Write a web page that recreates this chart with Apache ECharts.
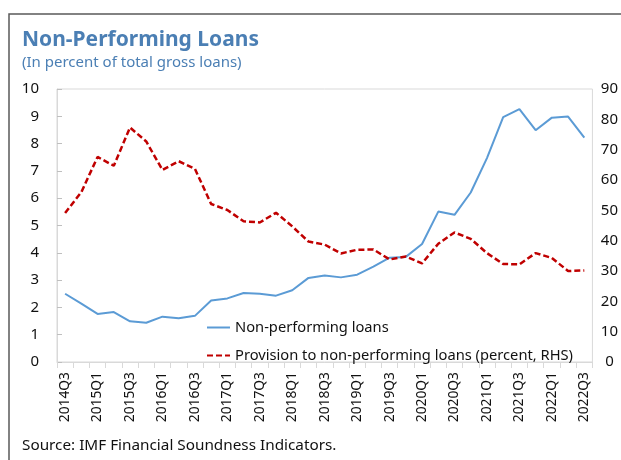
<!DOCTYPE html>
<html><head><meta charset="utf-8">
<script src="https://cdn.jsdelivr.net/npm/echarts@6/dist/echarts.min.js"></script>
<style>html,body{margin:0;padding:0;background:#fff}#c{width:621px;height:460px}</style>
</head><body><div id="c"></div>
<script>
const categories = ['2014Q3','2014Q4',
  '2015Q1','2015Q2','2015Q3','2015Q4',
  '2016Q1','2016Q2','2016Q3','2016Q4',
  '2017Q1','2017Q2','2017Q3','2017Q4',
  '2018Q1','2018Q2','2018Q3','2018Q4',
  '2019Q1','2019Q2','2019Q3','2019Q4',
  '2020Q1','2020Q2','2020Q3','2020Q4',
  '2021Q1','2021Q2','2021Q3','2021Q4',
  '2022Q1','2022Q2','2022Q3'];
const nplValues = [2.50,2.14,1.76,1.83,1.49,1.44,1.66,1.60,1.69,2.25,2.33,2.53,2.50,2.43,2.63,3.08,3.17,3.10,3.20,3.49,3.82,3.85,4.32,5.51,5.39,6.21,7.47,8.97,9.26,8.49,8.95,8.99,8.22];
const provisionValues = [49.1,56.0,67.6,64.7,77.3,72.7,63.3,66.2,63.7,52.1,50.1,46.4,46.0,49.2,44.7,39.7,38.7,35.8,37.0,37.1,33.8,34.8,32.5,39.0,42.7,40.6,35.9,32.3,32.2,35.9,34.3,30.0,30.2];
const seriesNames = ['Non-performing loans','Provision to non-performing loans (percent, RHS)'];
const titleText = 'Non-Performing Loans';
const subtitleText = '(In percent of total gross loans)';
const sourceText = 'Source: IMF Financial Soundness Indicators.';

const FONT = '"Noto Sans", "Open Sans", sans-serif';
const chart = echarts.init(document.getElementById('c'), null, {renderer:'canvas'});
chart.setOption({
  animation:false,
  backgroundColor:'#ffffff',
  textStyle:{fontFamily:FONT},
  title:{
    text:titleText, subtext:subtitleText, left:17, top:25, itemGap:4,
    textStyle:{fontFamily:FONT, fontSize:21, fontWeight:'bold', color:'#4B7FB4'},
    subtextStyle:{fontFamily:FONT, fontSize:15, color:'#4B7FB4'}
  },
  graphic:[
    {type:'rect', silent:true, shape:{x:9, y:14, width:700, height:600},
     style:{fill:'none', stroke:'#5a5a5a', lineWidth:1.5}},
    {type:'text', left:22, top:438, silent:true,
     style:{text:sourceText, font:'15.3px "Noto Sans", sans-serif', fill:'#111'}}
  ],
  legend:{
    orient:'vertical', left:201, top:315, itemWidth:23, itemHeight:14, itemGap:13,
    textStyle:{fontFamily:FONT, fontSize:14.7, color:'#111'},
    itemStyle:{opacity:0},
    data:seriesNames
  },
  grid:{left:57, right:25, top:89, bottom:98, show:true, borderColor:'#d9d9d9', borderWidth:1, containLabel:false},
  xAxis:{
    type:'category', data:categories, boundaryGap:true,
    axisLine:{show:true, lineStyle:{color:'#d9d9d9'}},
    axisTick:{show:true, interval:0, length:6, lineStyle:{color:'#d9d9d9'}},
    axisLabel:{rotate:90, interval:1, fontSize:13.8, color:'#111', margin:10, fontFamily:FONT},
    splitLine:{show:false}
  },
  yAxis:[
    {type:'value', min:0, max:10, interval:1,
     axisLine:{show:true, lineStyle:{color:'#d9d9d9'}},
     axisTick:{show:true, inside:true, length:5, lineStyle:{color:'#bfbfbf'}},
     axisLabel:{fontSize:15, color:'#111', margin:18, fontFamily:FONT},
     splitLine:{show:false}},
    {type:'value', min:0, max:90, interval:10, position:'right',
     axisLine:{show:false}, axisTick:{show:false},
     axisLabel:{fontSize:15, color:'#111', margin:17, fontFamily:FONT, align:'center'},
     splitLine:{show:false}}
  ],
  series:[
    {name:seriesNames[0], type:'line', yAxisIndex:0, data:nplValues, symbol:'none', smooth:false,
     lineStyle:{color:'#5B9BD5', width:2}, itemStyle:{color:'#5B9BD5'}},
    {name:seriesNames[1], type:'line', yAxisIndex:1, data:provisionValues, symbol:'none', smooth:false,
     lineStyle:{color:'#C00000', width:2.5, type:[6,3]}, itemStyle:{color:'#C00000'}}
  ]
});
</script></body></html>
